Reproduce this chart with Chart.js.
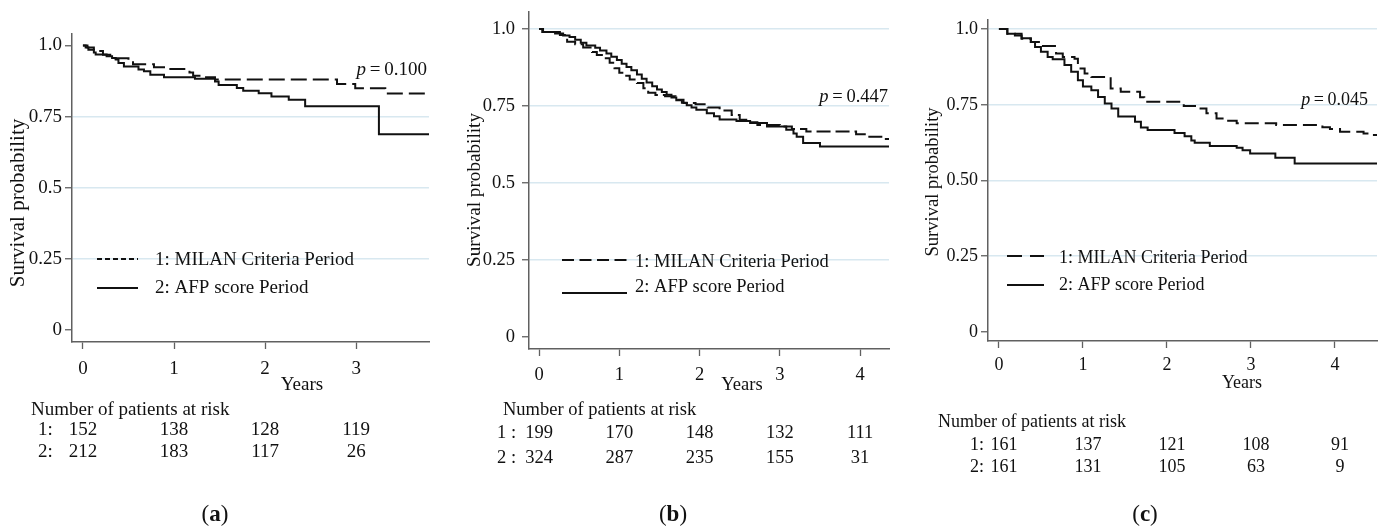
<!DOCTYPE html>
<html><head><meta charset="utf-8">
<script src="https://cdn.jsdelivr.net/npm/chart.js@4.4.1/dist/chart.umd.min.js"></script>
<style>
html,body{margin:0;padding:0;background:#fff;}
#wrap{position:relative;width:1383px;height:530px;overflow:hidden;background:#fff;}
.pnl{position:absolute;top:0;height:530px;}
</style></head><body>
<div id="wrap">
<div class="pnl" style="left:0;width:460px"><canvas id="ca" width="460" height="530"></canvas></div>
<div class="pnl" style="left:460px;width:460px"><canvas id="cb" width="460" height="530"></canvas></div>
<div class="pnl" style="left:920px;width:463px"><canvas id="cc" width="463" height="530"></canvas></div>
</div>
<script>
// ---------------- data ----------------
const seriesNames = ['1: MILAN Criteria Period', '2: AFP score Period'];
const yTickValues = [0, 0.25, 0.5, 0.75, 1];
const yTickLabelsAB = ['0', '0.25', '0.5', '0.75', '1.0'];
const yTickLabelsC = ['0', '0.25', '0.50', '0.75', '1.0'];
const xTicksA = [0, 1, 2, 3];
const xTicksBC = [0, 1, 2, 3, 4];

// panel (a)
const aMilanT = [0, 0.05, 0.12, 0.22, 0.3, 0.5, 0.55, 0.78, 0.96, 1.17, 1.21, 1.3, 1.45, 2.79, 2.99, 3.32, 3.8];
const aMilanS = [1, 0.993, 0.98, 0.967, 0.955, 0.945, 0.934, 0.923, 0.917, 0.905, 0.893, 0.888, 0.880, 0.864, 0.849, 0.831, 0.831];
const aAfpT = [0, 0.03, 0.06, 0.12, 0.14, 0.26, 0.32, 0.36, 0.39, 0.45, 0.61, 0.67, 0.74, 0.89, 1.23, 1.45, 1.49, 1.69, 1.76, 1.93, 2.07, 2.26, 2.44, 3.25, 3.8];
const aAfpS = [1, 0.993, 0.985, 0.975, 0.968, 0.962, 0.956, 0.950, 0.938, 0.926, 0.915, 0.909, 0.897, 0.888, 0.883, 0.873, 0.861, 0.850, 0.841, 0.832, 0.820, 0.809, 0.786, 0.688, 0.688];
const riskA1 = [152, 138, 128, 119];
const riskA2 = [212, 183, 117, 26];
const pValueA = '0.100';

// panel (b)
const bMilanT = [0, 0.05, 0.26, 0.35, 0.45, 0.55, 0.66, 0.72, 0.8, 0.88, 0.94, 1.0, 1.06, 1.13, 1.22, 1.3, 1.36, 1.45, 1.57, 1.7, 1.8, 1.95, 2.1, 2.25, 2.4, 2.5, 2.6, 2.72, 3.0, 3.15, 3.33, 3.95, 4.1, 4.28, 4.36];
const bMilanS = [1, 0.99, 0.98, 0.958, 0.95, 0.94, 0.925, 0.915, 0.905, 0.89, 0.872, 0.858, 0.848, 0.836, 0.824, 0.807, 0.793, 0.785, 0.781, 0.77, 0.759, 0.755, 0.745, 0.735, 0.72, 0.705, 0.697, 0.688, 0.683, 0.675, 0.667, 0.658, 0.65, 0.642, 0.642];
const bAfpT = [0, 0.04, 0.2, 0.3, 0.38, 0.45, 0.52, 0.59, 0.7, 0.76, 0.84, 0.9, 0.97, 1.03, 1.09, 1.15, 1.22, 1.28, 1.34, 1.41, 1.47, 1.53, 1.59, 1.65, 1.71, 1.78, 1.84, 1.9, 1.96, 2.09, 2.18, 2.25, 2.46, 2.63, 2.84, 3.08, 3.17, 3.21, 3.29, 3.5, 4.36];
const bAfpS = [1, 0.99, 0.985, 0.979, 0.974, 0.965, 0.955, 0.946, 0.939, 0.93, 0.92, 0.91, 0.899, 0.887, 0.876, 0.866, 0.852, 0.838, 0.826, 0.814, 0.803, 0.795, 0.786, 0.777, 0.768, 0.76, 0.752, 0.745, 0.737, 0.726, 0.716, 0.706, 0.701, 0.694, 0.683, 0.672, 0.66, 0.65, 0.629, 0.618, 0.618];
const riskB1 = [199, 170, 148, 132, 111];
const riskB2 = [324, 287, 235, 155, 31];
const pValueB = '0.447';

// panel (c)
const cMilanT = [0, 0.1, 0.27, 0.38, 0.5, 0.68, 0.76, 0.9, 0.94, 1.02, 1.1, 1.33, 1.45, 1.68, 1.73, 2.2, 2.35, 2.47, 2.59, 2.71, 2.83, 3.3, 3.85, 3.94, 4.06, 4.34, 4.42, 4.5];
const cMilanS = [1, 0.985, 0.968, 0.957, 0.944, 0.919, 0.908, 0.902, 0.87, 0.853, 0.842, 0.804, 0.793, 0.775, 0.76, 0.746, 0.738, 0.722, 0.705, 0.697, 0.689, 0.683, 0.676, 0.67, 0.661, 0.655, 0.65, 0.65];
const cAfpT = [0, 0.1, 0.19, 0.27, 0.38, 0.43, 0.5, 0.58, 0.64, 0.78, 0.86, 0.94, 1.0, 1.1, 1.18, 1.26, 1.34, 1.42, 1.62, 1.69, 1.77, 2.09, 2.21, 2.29, 2.33, 2.51, 2.83, 2.9, 2.99, 3.29, 3.52, 4.5];
const cAfpS = [1, 0.985, 0.979, 0.97, 0.957, 0.941, 0.925, 0.908, 0.9, 0.881, 0.859, 0.831, 0.81, 0.798, 0.776, 0.754, 0.738, 0.711, 0.694, 0.675, 0.667, 0.657, 0.646, 0.632, 0.625, 0.614, 0.608, 0.6, 0.589, 0.575, 0.556, 0.556];
const riskC1 = [161, 137, 121, 108, 91];
const riskC2 = [161, 131, 105, 63, 9];
const pValueC = '0.045';

// ---------------- rendering ----------------
const FAMILY = "'Liberation Serif', 'Times New Roman', serif";
const INK = '#111';
const AXIS = '#606060';
const GRID = '#d8e8f0';

function pts(ts, ss) { return ts.map((t, i) => ({ x: t, y: ss[i] })); }
function font(sz, style) { return (style || '') + ' ' + sz + 'px ' + FAMILY; }

function textPlugin(L) {
  return {
    id: 'kmText',
    afterDraw(chart) {
      const ctx = chart.ctx, xs = chart.scales.x;
      ctx.save();
      ctx.fillStyle = INK;
      ctx.textBaseline = 'middle';
      // y title
      ctx.save();
      ctx.translate(L.yTitle[0], L.yTitle[1]);
      ctx.rotate(-Math.PI / 2);
      ctx.textAlign = 'center';
      ctx.font = font(L.yTitleFs);
      ctx.fillText('Survival probability', 0, 0);
      ctx.restore();
      // x title
      ctx.textAlign = 'center';
      ctx.font = font(L.fs);
      ctx.fillText('Years', L.xTitle[0], L.xTitle[1]);
      // p value
      ctx.font = font(L.fs, 'italic');
      const wp = ctx.measureText('p').width;
      ctx.font = font(L.fs);
      const rest = '\u2009=\u2009' + L.pValue;
      const wr = ctx.measureText(rest).width;
      const x0 = L.p[0] - wp - wr;
      ctx.textAlign = 'left';
      ctx.font = font(L.fs, 'italic');
      ctx.fillText('p', x0, L.p[1]);
      ctx.font = font(L.fs);
      ctx.fillText(rest, x0 + wp, L.p[1]);
      // legend
      chart.data.datasets.forEach((ds, i) => {
        ctx.beginPath();
        ctx.setLineDash(L.legDash[i]);
        ctx.lineWidth = ds.borderWidth;
        ctx.strokeStyle = ds.borderColor;
        ctx.moveTo(L.legX[0], L.legLineY[i]);
        ctx.lineTo(L.legX[1], L.legLineY[i]);
        ctx.stroke();
        ctx.setLineDash([]);
        ctx.textAlign = 'left';
        ctx.font = font(L.fs);
        ctx.fillText(ds.label, L.legX[2], L.legTextY[i]);
      });
      // risk table
      ctx.font = font(L.fs);
      ctx.textAlign = 'left';
      ctx.fillText('Number of patients at risk', L.riskHead[0], L.riskHead[1]);
      L.riskRows.forEach((row, r) => {
        ctx.textAlign = 'left';
        ctx.fillText(L.rowLabels[r], L.rowLabelX, L.rowY[r]);
        ctx.textAlign = 'center';
        row.forEach((n, k) => {
          ctx.fillText(String(n), xs.getPixelForValue(L.xTicks[k]) + L.riskDx, L.rowY[r]);
        });
      });
      // caption
      const cs = L.capFs;
      ctx.font = font(cs);
      const wl = ctx.measureText('(').width, wr2 = ctx.measureText(')').width;
      ctx.font = font(cs, 'bold');
      const wm = ctx.measureText(L.letter).width;
      let cx = L.cap[0] - (wl + wm + wr2) / 2;
      ctx.textAlign = 'left';
      ctx.font = font(cs); ctx.fillText('(', cx, L.cap[1]); cx += wl;
      ctx.font = font(cs, 'bold'); ctx.fillText(L.letter, cx, L.cap[1]); cx += wm;
      ctx.font = font(cs); ctx.fillText(')', cx, L.cap[1]);
      ctx.restore();
    }
  };
}

function makeKM(id, L) {
  const common = { stepped: 'before', pointRadius: 0, borderColor: '#111', borderWidth: 2, fill: false, tension: 0 };
  return new Chart(document.getElementById(id), {
    type: 'line',
    data: {
      datasets: [
        Object.assign({ label: seriesNames[0], data: pts(L.milanT, L.milanS), borderDash: L.plotDash }, common),
        Object.assign({ label: seriesNames[1], data: pts(L.afpT, L.afpS), borderDash: [] }, common)
      ]
    },
    options: {
      responsive: false,
      animation: false,
      events: [],
      layout: { padding: { left: 0, right: L.pad[1], top: L.pad[0], bottom: L.pad[2] } },
      plugins: { legend: { display: false }, tooltip: { enabled: false }, title: { display: false } },
      scales: {
        x: {
          type: 'linear', min: L.xRange[0], max: L.xRange[1],
          afterBuildTicks: s => { s.ticks = L.xTicks.map(v => ({ value: v })); },
          afterFit: s => { s.height = L.xh; s.paddingLeft = 0; s.paddingRight = 0; },
          ticks: { color: INK, font: { family: FAMILY, size: L.fs }, padding: L.xPad, maxRotation: 0, autoSkip: false, callback: v => String(v) },
          grid: { drawOnChartArea: false, drawTicks: true, tickLength: 7, tickColor: AXIS, tickWidth: 1.3 },
          border: { display: true, color: AXIS, width: 1.5 }
        },
        y: {
          type: 'linear', min: L.yRange[0], max: L.yRange[1],
          afterBuildTicks: s => { s.ticks = yTickValues.map(v => ({ value: v })); },
          afterFit: s => { s.width = L.yw; s.paddingTop = 0; s.paddingBottom = 0; },
          ticks: { color: INK, font: { family: FAMILY, size: L.fs }, padding: L.yPad, autoSkip: false, callback: (v, i) => L.yLabels[i] },
          grid: {
            drawOnChartArea: true, drawTicks: true, tickLength: 7, tickColor: AXIS, tickWidth: 1.3,
            color: c => (c.tick && L.gridVals.indexOf(c.tick.value) >= 0) ? GRID : 'rgba(0,0,0,0)',
            lineWidth: 1.5
          },
          border: { display: true, color: AXIS, width: 1.5 }
        }
      }
    },
    plugins: [textPlugin(L)]
  });
}

makeKM('ca', {
  milanT: aMilanT, milanS: aMilanS, afpT: aAfpT, afpS: aAfpS,
  xTicks: xTicksA, yLabels: yTickLabelsAB, pValue: pValueA, riskRows: [riskA1, riskA2],
  rowLabels: ['1:', '2:'], letter: 'a',
  pad: [34, 31, 148], yw: 72, xh: 40, xRange: [-0.12, 3.8], yRange: [-0.042, 1.04],
  gridVals: [0.25, 0.5, 0.75], fs: 19, yTitleFs: 21, xPad: 9, yPad: 3, plotDash: [16, 6],
  yTitle: [18, 203], xTitle: [302, 385], p: [427, 70],
  legX: [97, 138, 155], legLineY: [259, 288], legTextY: [260, 288], legDash: [[5, 3], []],
  riskHead: [31, 410], rowLabelX: 38, rowY: [430, 452], riskDx: 0,
  cap: [215, 515], capFs: 23
});
makeKM('cb', {
  milanT: bMilanT, milanS: bMilanS, afpT: bAfpT, afpS: bAfpS,
  xTicks: xTicksBC, yLabels: yTickLabelsAB, pValue: pValueB, riskRows: [riskB1, riskB2],
  rowLabels: ['1 :', '2 :'], letter: 'b',
  pad: [12, 31, 141], yw: 69, xh: 40, xRange: [-0.125, 4.36], yRange: [-0.04, 1.055],
  gridVals: [0.25, 0.5, 0.75, 1], fs: 18.5, yTitleFs: 19.2, xPad: 8, yPad: 7, plotDash: [14, 5],
  yTitle: [15, 190], xTitle: [282, 385], p: [428, 97],
  legX: [102, 167, 175], legLineY: [260, 293], legTextY: [262, 287], legDash: [[12, 5.5], []],
  riskHead: [43, 410], rowLabelX: 37, rowY: [433, 458], riskDx: 0,
  cap: [213, 515], capFs: 23
});
makeKM('cc', {
  milanT: cMilanT, milanS: cMilanS, afpT: cAfpT, afpS: cAfpS,
  xTicks: xTicksBC, yLabels: yTickLabelsC, pValue: pValueC, riskRows: [riskC1, riskC2],
  rowLabels: ['1:', '2:'], letter: 'c',
  pad: [20, 6, 149], yw: 68, xh: 40, xRange: [-0.13, 4.5], yRange: [-0.03, 1.03],
  gridVals: [0.25, 0.5, 0.75, 1], fs: 18, yTitleFs: 18.6, xPad: 6, yPad: 3, plotDash: [14, 6],
  yTitle: [13, 182], xTitle: [322, 383], p: [448, 100],
  legX: [87, 124, 139], legLineY: [256, 285], legTextY: [258, 285], legDash: [[15, 8], []],
  riskHead: [18, 422], rowLabelX: 50, rowY: [445, 467], riskDx: 5,
  cap: [225, 515], capFs: 23
});
</script>
</body></html>
